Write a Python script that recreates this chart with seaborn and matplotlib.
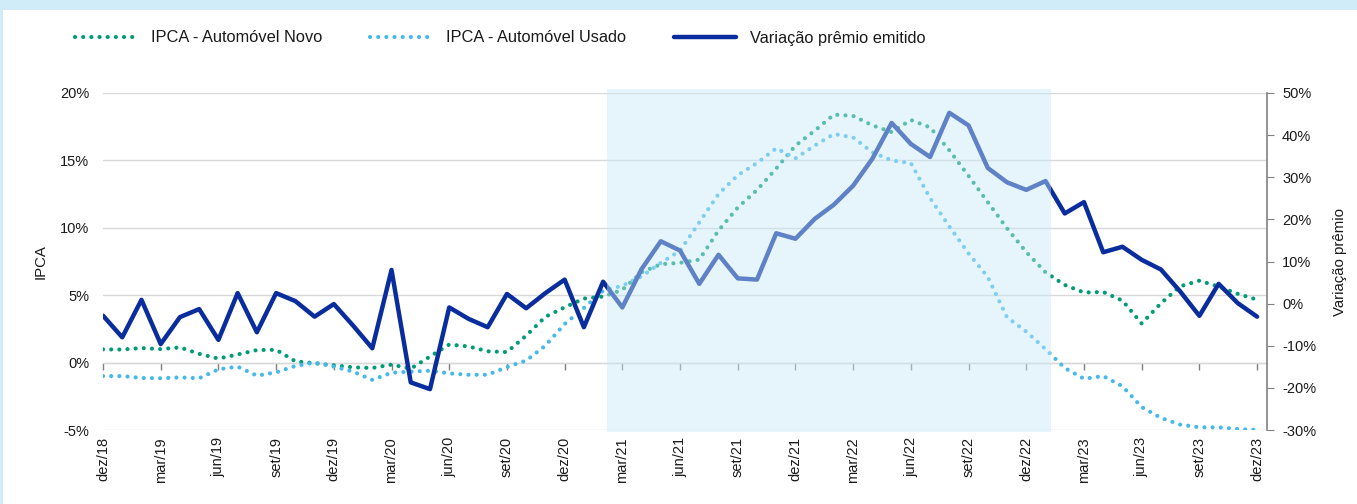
import matplotlib
matplotlib.use("Agg")
import matplotlib.pyplot as plt
import matplotlib.patches as mpatches
from matplotlib.lines import Line2D
import seaborn as sns
import pandas as pd

# ---------------- data ----------------
month_labels = []
for yr in range(18, 24):
    for m in ["jan", "fev", "mar", "abr", "mai", "jun", "jul", "ago", "set", "out", "nov", "dez"]:
        month_labels.append(f"{m}/{yr}")
month_labels = month_labels[11:]  # dez/18 .. dez/23 (61 months)

ipca_novo = [0.98, 0.97, 1.08, 1.0, 1.13, 0.65, 0.3, 0.6, 0.93, 0.95, 0.1, -0.05,
             -0.2, -0.35, -0.4, -0.15, -0.45, 0.45, 1.34, 1.2, 0.84, 0.78, 2.0, 3.4,
             4.1, 4.75, 4.9, 5.4, 6.7, 7.3, 7.4, 7.64, 9.8, 11.5, 12.8, 14.4,
             16.1, 17.2, 18.4, 18.3, 17.6, 17.1, 18.0, 17.45, 15.75, 13.85, 11.9, 9.96,
             8.2, 6.7, 5.76, 5.2, 5.24, 4.6, 2.9, 4.4, 5.66, 6.08, 5.64, 5.1, 4.67]

ipca_usado = [-1.0, -1.0, -1.14, -1.16, -1.1, -1.16, -0.5, -0.3, -0.97, -0.72, -0.25, 0.0,
              -0.3, -0.67, -1.28, -0.75, -0.67, -0.6, -0.8, -0.9, -0.9, -0.33, 0.15, 1.26,
              2.86, 4.05, 5.34, 5.7, 6.4, 7.4, 8.3, 10.4, 12.5, 13.9, 14.8, 15.9,
              15.15, 16.1, 16.96, 16.7, 15.6, 15.0, 14.8, 12.2, 10.1, 8.1, 6.35, 3.36,
              2.3, 1.0, -0.4, -1.2, -1.0, -1.75, -3.3, -4.1, -4.6, -4.8, -4.8, -4.93, -5.0]

var_premio = [-2.85, -8.0, 0.9, -9.6, -3.2, -1.3, -8.6, 2.5, -6.8, 2.5, 0.6, -3.1,
              -0.1, -5.2, -10.6, 8.0, -18.7, -20.3, -0.9, -3.6, -5.6, 2.3, -1.1, 2.5,
              5.7, -5.6, 5.2, -0.9, 8.2, 14.8, 12.6, 4.7, 11.6, 6.0, 5.7, 16.7,
              15.4, 20.1, 23.5, 28.0, 34.4, 42.9, 37.9, 34.8, 45.3, 42.3, 32.2, 28.8,
              27.0, 29.1, 21.4, 24.1, 12.2, 13.5, 10.4, 8.1, 2.9, -2.9, 4.7, 0.1, -3.1]

left_ticks = [-5, 0, 5, 10, 15, 20]
right_ticks = [-30, -20, -10, 0, 10, 20, 30, 40, 50]
shade_start, shade_end = 26.2, 49.3

df = pd.DataFrame({"idx": range(len(month_labels)), "mes": month_labels,
                   "novo": ipca_novo, "usado": ipca_usado, "premio": var_premio})

# ---------------- style ----------------
sns.set_style("white")
plt.rcParams["font.family"] = ["Liberation Sans", "DejaVu Sans"]
plt.rcParams["font.size"] = 10.5

GREEN = "#009B77"
LBLUE = "#45B9E9"
NAVY = "#0A2D9E"
GRID = "#D9D9D9"
AXIS = "#808080"
FRAME = "#D0ECF8"
TXT = "#1A1A1A"

fig = plt.figure(figsize=(13.57, 5.04), dpi=100, facecolor="white")
# light-blue frame band (top and left edges)
fig.patches.append(mpatches.Rectangle((0, 1 - 10 / 504), 1, 10 / 504,
                                      transform=fig.transFigure, facecolor=FRAME,
                                      edgecolor="none", zorder=-10))
fig.patches.append(mpatches.Rectangle((0, 0), 3 / 1357, 1,
                                      transform=fig.transFigure, facecolor=FRAME,
                                      edgecolor="none", zorder=-10))
ax = fig.add_axes([103 / 1357, 1 - 430 / 504, (1266.7 - 103) / 1357, (430 - 93) / 504])
ax.set_facecolor("none")

dot_ls = (0, (0.01, 1.95))
sns.lineplot(data=df, x="idx", y="novo", ax=ax, color=GREEN, lw=3.0,
             linestyle=dot_ls, dash_capstyle="round", zorder=3)
sns.lineplot(data=df, x="idx", y="usado", ax=ax, color=LBLUE, lw=3.0,
             linestyle=dot_ls, dash_capstyle="round", zorder=3)

ax.set_xlim(0, len(month_labels) - 0.5)
ax.set_ylim(-5, 20)
ax.set_yticks(left_ticks)
ax.set_yticklabels([f"{v}%" for v in left_ticks], color=TXT)
ax.yaxis.grid(True, color=GRID, lw=1)
ax.set_axisbelow(True)
for s in ["left", "top", "bottom", "right"]:
    ax.spines[s].set_visible(False)
ax.tick_params(axis="y", length=0, pad=10)
xt = list(range(0, len(month_labels), 3))
ax.set_xticks(xt)
ax.set_xticklabels([month_labels[i] for i in xt], rotation=90, color=TXT)
ax.tick_params(axis="x", length=0, pad=5)
ax.set_xlabel("")
ax.set_ylabel("IPCA", fontsize=10.8, labelpad=9, color=TXT)

# axis line at 0% with ticks
sec = ax.secondary_xaxis(5 / 25)
sec.set_xticks(xt)
sec.set_xticklabels([""] * len(xt))
sec.tick_params(axis="x", length=5, direction="out", color=AXIS, width=1)
sec.spines["bottom"].set_color(AXIS)

ax2 = ax.twinx()
sns.lineplot(data=df, x="idx", y="premio", ax=ax2, color=NAVY, lw=3.2, zorder=4)
ax2.set_ylim(-30, 50)
ax2.set_yticks(right_ticks)
ax2.set_yticklabels([f"{v}%" for v in right_ticks], color=TXT)
for s in ["left", "top", "bottom"]:
    ax2.spines[s].set_visible(False)
ax2.spines["right"].set_color(AXIS)
ax2.spines["right"].set_linewidth(1.2)
ax2.tick_params(axis="y", length=5, color=AXIS, pad=6)
ax2.set_ylabel("Variação prêmio", fontsize=10.8, labelpad=12, color=TXT)
ax2.set_xlabel("")

span = ax2.axvspan(shade_start, shade_end, ymin=-0.006, ymax=1.012,
                   facecolor="#C8E8F7", alpha=0.45, edgecolor="none", zorder=10)
span.set_clip_on(False)

handles = [Line2D([], [], color=GREEN, lw=3.0, linestyle=dot_ls, dash_capstyle="round"),
           Line2D([], [], color=LBLUE, lw=3.0, linestyle=dot_ls, dash_capstyle="round"),
           Line2D([], [], color=NAVY, lw=3.2)]
labels = ["IPCA - Automóvel Novo", "IPCA - Automóvel Usado", "Variação prêmio emitido"]
fig.legend(handles, labels, loc="center left", bbox_to_anchor=(60 / 1357, 1 - 38 / 504),
           ncol=3, frameon=False, fontsize=11.8, handlelength=3.8, handletextpad=0.85,
           columnspacing=2.9, labelcolor=TXT)

fig.savefig("out.png", dpi=100, facecolor=fig.get_facecolor())
